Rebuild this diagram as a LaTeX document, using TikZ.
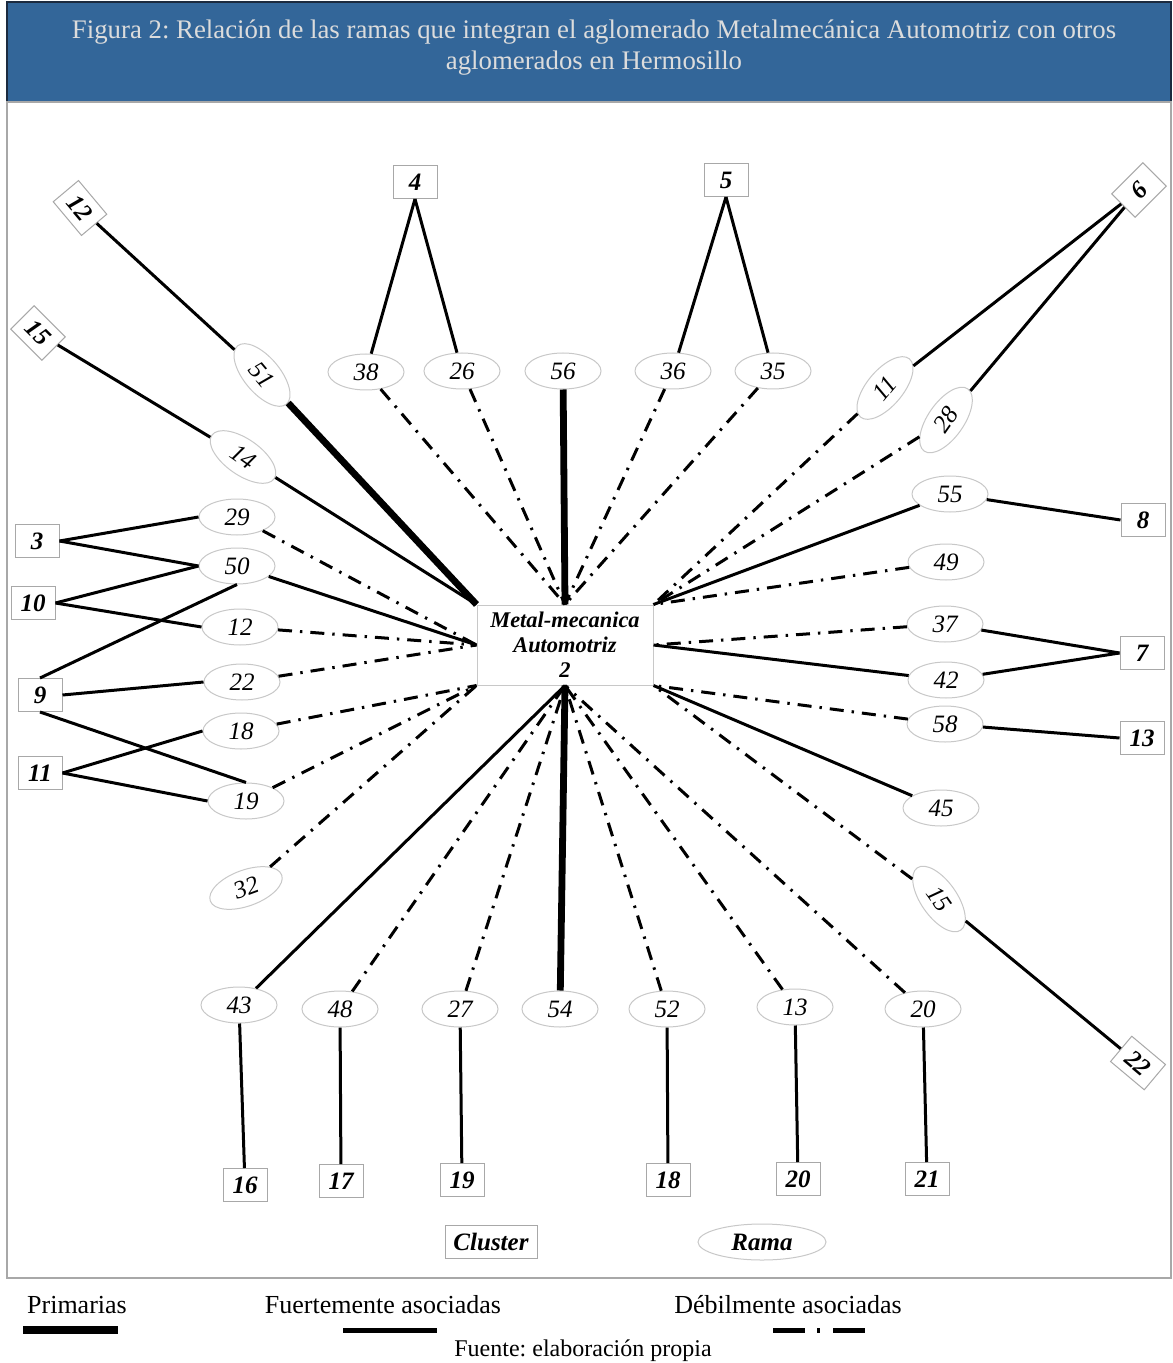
\documentclass[tikz,border=0pt]{standalone}
\usepackage{fontspec}
\setmainfont{Liberation Serif}
\usetikzlibrary{shapes.geometric}
\frenchspacing
\definecolor{HMBlue}{HTML}{336699}
\definecolor{HMNavy}{HTML}{1B2A3F}
\definecolor{HMTitle}{HTML}{DCDCDC}
\definecolor{HMLine}{HTML}{C8C8C8}
\definecolor{HMFrame}{HTML}{A8A8A8}
\tikzset{
  rama/.style={ellipse,draw=HMLine,line width=.5pt,fill=white,minimum width=38pt,minimum height=18pt,inner sep=1pt,font=\fontsize{12.5}{12.5}\selectfont\itshape},
  cluster/.style={rectangle,draw=HMFrame,line width=.5pt,fill=white,minimum width=22pt,minimum height=16.5pt,inner sep=2pt,font=\fontsize{12.5}{12.5}\selectfont\bfseries\itshape},
  primaria/.style={line width=3.4pt},
  fuerte/.style={line width=1.5pt},
  debil/.style={line width=1.5pt,dash pattern=on 7pt off 4pt on 1.2pt off 4pt},
  leyenda/.style={font=\fontsize{13}{14}\selectfont}
}

\begin{document}
\begin{tikzpicture}[x=0.5pt,y=-0.5pt]
\path[use as bounding box] (0,0) rectangle (1172,1363);
\fill[white] (0,0) rectangle (1172,1363);
\fill[HMBlue] (7,2) rectangle (1171,102);
\draw[HMNavy,line width=1.2pt] (7,2) rectangle (1171,102);
\node[HMTitle,align=center,font=\fontsize{13.4}{15.5}\selectfont] (titulo) at (594,48) {Figura 2: Relación de las ramas que integran el aglomerado Metalmecánica Automotriz con otros\\aglomerados en Hermosillo};
\draw[HMFrame,line width=.6pt] (7,102) rectangle (1171,1278);

\node[draw=HMLine,line width=.5pt,fill=white,minimum width=88pt,minimum height=40pt,align=center,inner sep=1pt,font=\fontsize{11.2}{12.5}\selectfont\bfseries\itshape] (c) at (565,645) {Metal-mecanica\\Automotriz\\2};

\node[rama,rotate=-50] (r51) at (262,375) {51};
\node[rama] (r38) at (366,372) {38};
\node[rama] (r26) at (462,371) {26};
\node[rama] (r56) at (563,371) {56};
\node[rama] (r36) at (673,371) {36};
\node[rama] (r35) at (773,371) {35};
\node[rama,rotate=50] (r11) at (885,388) {11};
\node[rama,rotate=55] (r28) at (946,420) {28};
\node[rama,rotate=-35] (r14) at (243,457) {14};
\node[rama] (r29) at (237,517) {29};
\node[rama] (r50) at (237,566) {50};
\node[rama] (r12) at (240,627) {12};
\node[rama] (r22) at (242,682) {22};
\node[rama] (r18) at (241,731) {18};
\node[rama] (r19) at (246,801) {19};
\node[rama,rotate=20] (r32) at (246,888) {32};
\node[rama] (r55) at (950,494) {55};
\node[rama] (r49) at (946,562) {49};
\node[rama] (r37) at (945,624) {37};
\node[rama] (r42) at (946,680) {42};
\node[rama] (r58) at (945,724) {58};
\node[rama] (r45) at (941,808) {45};
\node[rama,rotate=-55] (r15) at (939,899) {15};
\node[rama] (r43) at (239,1005) {43};
\node[rama] (r48) at (340,1009) {48};
\node[rama] (r27) at (460,1009) {27};
\node[rama] (r54) at (560,1009) {54};
\node[rama] (r52) at (667,1009) {52};
\node[rama] (r13) at (795,1007) {13};
\node[rama] (r20) at (923,1009) {20};

\node[cluster,rotate=-50] (k12) at (80,208) {12};
\node[cluster,rotate=-45] (k15) at (38,333) {15};
\node[cluster] (k4) at (415,182) {4};
\node[cluster] (k5) at (726,180) {5};
\node[cluster,rotate=45] (k6) at (1139,190) {6};
\node[cluster] (k8) at (1143,520) {8};
\node[cluster] (k7) at (1142,653) {7};
\node[cluster] (k13) at (1142,738) {13};
\node[cluster,rotate=-40] (k22) at (1138,1063) {22};
\node[cluster] (k3) at (37,541) {3};
\node[cluster] (k10) at (33,603) {10};
\node[cluster] (k9) at (40,695) {9};
\node[cluster] (k11) at (40,773) {11};
\node[cluster] (k16) at (245,1185) {16};
\node[cluster] (k17) at (341,1181) {17};
\node[cluster] (k19) at (462,1180) {19};
\node[cluster] (k18) at (668,1180) {18};
\node[cluster] (k20) at (798,1179) {20};
\node[cluster] (k21) at (927,1179) {21};

\draw[primaria] (r51) -- (c.north west);
\draw[fuerte] (r14) -- (c.north west);
\draw[debil] (r29) -- (c.west);
\draw[fuerte] (r50) -- (c.west);
\draw[debil] (r12) -- (c.west);
\draw[debil] (r22) -- (c.west);
\draw[debil] (r18) -- (c.south west);
\draw[debil] (r19) -- (c.south west);
\draw[debil] (r32) -- (c.south west);
\draw[debil] (r38) -- (c.north);
\draw[debil] (r26) -- (c.north);
\draw[primaria] (r56) -- (c.north);
\draw[debil] (r36) -- (c.north);
\draw[debil] (r35) -- (c.north);
\draw[debil] (r11) -- (c.north east);
\draw[debil] (r28) -- (c.north east);
\draw[fuerte] (r55) -- (c.north east);
\draw[debil] (r49) -- (c.north east);
\draw[debil] (r37) -- (c.east);
\draw[fuerte] (r42) -- (c.east);
\draw[debil] (r58) -- (c.south east);
\draw[fuerte] (r45) -- (c.south east);
\draw[debil] (r15) -- (c.south east);
\draw[fuerte] (r43) -- (c.south);
\draw[debil] (r48) -- (c.south);
\draw[debil] (r27) -- (c.south);
\draw[primaria] (r54) -- (c.south);
\draw[debil] (r52) -- (c.south);
\draw[debil] (r13) -- (c.south);
\draw[debil] (r20) -- (c.south);

\draw[fuerte] (k12) -- (r51);
\draw[fuerte] (k15) -- (r14);
\draw[fuerte] (k4.south) -- (r38);
\draw[fuerte] (k4.south) -- (r26);
\draw[fuerte] (k5.south) -- (r36);
\draw[fuerte] (k5.south) -- (r35);
\draw[fuerte] (k6) -- (r11);
\draw[fuerte] (k6) -- (r28);
\draw[fuerte] (r55) -- (k8.west);
\draw[fuerte] (r37) -- (k7.west);
\draw[fuerte] (r42) -- (k7.west);
\draw[fuerte] (r58) -- (k13.west);
\draw[fuerte] (r15) -- (k22);
\draw[fuerte] (k3.east) -- (r29.west);
\draw[fuerte] (k3.east) -- (r50.west);
\draw[fuerte] (k10.east) -- (r50.west);
\draw[fuerte] (k10.east) -- (r12.west);
\draw[fuerte] (k9.north) -- (r50.south);
\draw[fuerte] (k9.east) -- (r22.west);
\draw[fuerte] (k9.south) -- (r19.north);
\draw[fuerte] (k11.east) -- (r18.west);
\draw[fuerte] (k11.east) -- (r19.west);
\draw[fuerte] (r43) -- (k16);
\draw[fuerte] (r48) -- (k17);
\draw[fuerte] (r27) -- (k19);
\draw[fuerte] (r52) -- (k18);
\draw[fuerte] (r13) -- (k20);
\draw[fuerte] (r20) -- (k21);

\node[cluster,minimum width=46pt] (clave1) at (491,1242) {Cluster};
\node[rama,minimum width=64pt,font=\fontsize{12.5}{12.5}\selectfont\bfseries\itshape] (clave2) at (762,1242) {Rama};

\node[leyenda] (l1) at (77,1305) {Primarias};
\node[leyenda] (l2) at (383,1305) {Fuertemente asociadas};
\node[leyenda] (l3) at (788,1305) {Débilmente asociadas};
\draw[line width=4pt] (23,1330) -- (118,1330);
\draw[line width=2.5pt] (343,1330) -- (437,1330);
\draw[line width=2.5pt,dash pattern=on 16pt off 6pt on 1.5pt off 6.5pt] (773,1330) -- (865,1330);
\node[font=\fontsize{12}{13}\selectfont] (fuente) at (583,1351) {Fuente: elaboración propia};
\end{tikzpicture}
\end{document}
